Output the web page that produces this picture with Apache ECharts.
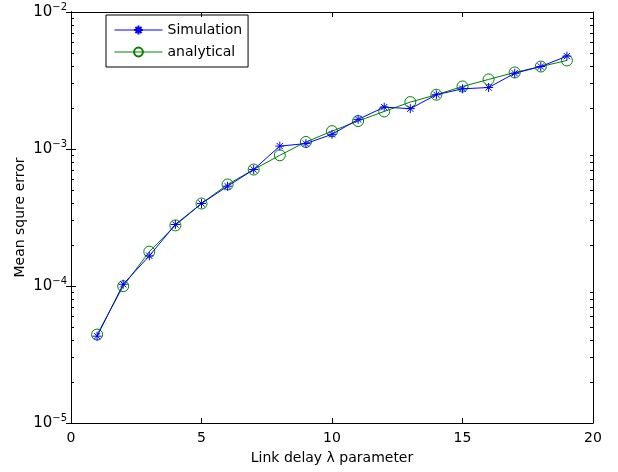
<!DOCTYPE html>
<html>
<head>
<meta charset="utf-8">
<script src="https://cdn.jsdelivr.net/npm/echarts@6/dist/echarts.min.js"></script>
<style>
  html, body { margin: 0; padding: 0; background: #fff; }
  #container { width: 618px; height: 472px; }
</style>
</head>
<body>
<div id="container"></div>
<script>
// link delay parameter values
var lambdas = [1, 2, 3, 4, 5, 6, 7, 8, 9, 10, 11, 12, 13, 14, 15, 16, 17, 18, 19];
// mean square error
var simulation = [4.3e-5, 1.03e-4, 1.66e-4, 2.81e-4, 4.0e-4, 5.35e-4, 7.08e-4, 1.05e-3, 1.095e-3, 1.28e-3,
    1.645e-3, 2.02e-3, 1.97e-3, 2.49e-3, 2.75e-3, 2.81e-3, 3.57e-3, 4.0e-3, 4.76e-3];
var analytical = [4.42e-5, 9.97e-5, 1.78e-4, 2.77e-4, 4.0e-4, 5.51e-4, 7.08e-4, 9.0e-4, 1.125e-3, 1.35e-3,
    1.60e-3, 1.88e-3, 2.20e-3, 2.49e-3, 2.86e-3, 3.22e-3, 3.62e-3, 4.0e-3, 4.43e-3];
var xTicks = [0, 5, 10, 15, 20];
var yMajor = [1e-5, 1e-4, 1e-3, 1e-2];
var yMinor = [];
[1e-5, 1e-4, 1e-3].forEach(function (d) {
    for (var k = 2; k <= 9; k++) yMinor.push(+(d * k).toPrecision(3));
});

var font = 'DejaVu Sans';
var asterisk = 'path://M5,0L5,10M0,5L10,5M1.5,1.5L8.5,8.5M1.5,8.5L8.5,1.5';
var ring = 'path://M10,5A5,5,0,1,1,0,5A5,5,0,1,1,10,5Z';

function zip(xs, ys) {
    return xs.map(function (x, i) { return [x, ys[i]]; });
}

function yLabel(v) {
    var e = Math.round(Math.log10(v));
    return '{b|10}{s|\u2212' + Math.abs(e) + '}';
}

var dom = document.getElementById('container');
var myChart = echarts.init(dom, null, { renderer: 'canvas' });

var logAxis = function (opts) {
    return Object.assign({
        type: 'log',
        logBase: 10,
        min: 1e-5,
        max: 1e-2,
        splitLine: { show: false },
        axisLine: { show: true, lineStyle: { color: '#000', width: 1 } },
        axisLabel: { show: false },
        axisTick: { show: true, inside: true, length: 5, customValues: yMajor, lineStyle: { color: '#000' } }
    }, opts);
};

var option = {
    animation: false,
    backgroundColor: '#fff',
    textStyle: { fontFamily: font },
    grid: { left: 71, right: 25, top: 12, bottom: 49 },
    legend: {
        orient: 'vertical',
        left: 106,
        top: 15,
        itemWidth: 48,
        itemHeight: 11,
        itemGap: 8,
        padding: [8, 6, 8, 8],
        borderColor: '#000',
        borderWidth: 1,
        borderRadius: 0,
        lineStyle: { width: 1 },
        textStyle: { fontFamily: font, fontSize: 14, color: '#000' },
        data: ['Simulation', 'analytical']
    },
    xAxis: [{
        type: 'value',
        min: 0,
        max: 20,
        interval: 5,
        position: 'bottom',
        name: 'Link delay \u03bb parameter',
        nameLocation: 'middle',
        nameGap: 28,
        nameTextStyle: { fontFamily: font, fontSize: 14, color: '#000' },
        splitLine: { show: false },
        axisLine: { lineStyle: { color: '#000', width: 1 } },
        axisTick: { inside: true, length: 5, customValues: xTicks, lineStyle: { color: '#000' } },
        axisLabel: { customValues: xTicks, fontFamily: font, fontSize: 14, color: '#000', margin: 8 }
    }, {
        type: 'value',
        min: 0,
        max: 20,
        interval: 5,
        position: 'top',
        splitLine: { show: false },
        axisLine: { lineStyle: { color: '#000', width: 1 } },
        axisTick: { inside: true, length: 5, customValues: xTicks, lineStyle: { color: '#000' } },
        axisLabel: { show: false }
    }],
    yAxis: [
        logAxis({
            position: 'left',
            name: 'Mean squre error',
            nameLocation: 'middle',
            nameGap: 44,
            nameMoveOverlap: false,
            nameRotate: 90,
            nameTextStyle: { fontFamily: font, fontSize: 14, color: '#000' },
            axisLabel: {
                show: true,
                customValues: yMajor,
                margin: 4,
                fontFamily: font,
                fontSize: 15,
                color: '#000',
                formatter: yLabel,
                rich: {
                    b: { fontFamily: font, fontSize: 15, color: '#000' },
                    s: { fontFamily: font, fontSize: 10, color: '#000', verticalAlign: 'top', padding: [0, 0, 10, 0] }
                }
            }
        }),
        logAxis({ position: 'right' }),
        logAxis({ position: 'left', axisTick: { show: true, inside: true, length: 3, customValues: yMinor, lineStyle: { color: '#000' } } }),
        logAxis({ position: 'right', axisTick: { show: true, inside: true, length: 3, customValues: yMinor, lineStyle: { color: '#000' } } })
    ],
    series: [{
        name: 'Simulation',
        type: 'line',
        data: zip(lambdas, simulation),
        symbol: asterisk,
        symbolSize: 9,
        showAllSymbol: true,
        lineStyle: { color: '#0000ff', width: 1 },
        itemStyle: { color: 'rgba(0,0,0,0)', borderColor: '#0000ff', borderWidth: 1 },
        z: 3
    }, {
        name: 'analytical',
        type: 'line',
        data: zip(lambdas, analytical),
        symbol: ring,
        symbolSize: 11,
        showAllSymbol: true,
        lineStyle: { color: '#008000', width: 1 },
        itemStyle: { color: 'rgba(0,0,0,0)', borderColor: '#008000', borderWidth: 1 },
        z: 2
    }]
};
myChart.setOption(option, true);
</script>
</body>
</html>
